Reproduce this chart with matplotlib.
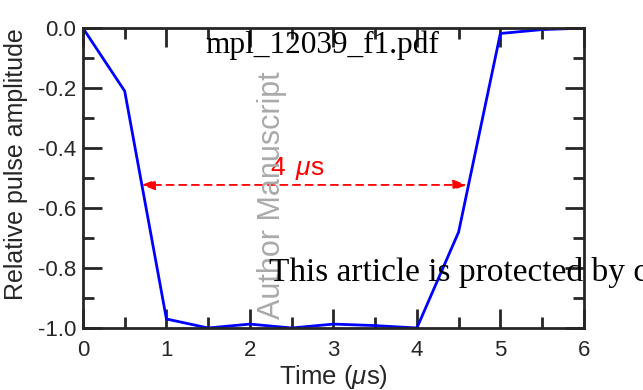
import numpy as np
import matplotlib
matplotlib.use("Agg")
import matplotlib.pyplot as plt
from matplotlib.ticker import MultipleLocator

# pulse data
t_us = [0, 0.5, 1, 1.5, 2, 2.5, 3, 3.5, 4, 4.5, 5, 5.5, 6]
amp = [0, -0.21, -0.97, -1.0, -0.987, -1.0, -0.987, -0.992, -1.0, -0.68, -0.018, -0.005, 0]

arrow_x = [0.7, 4.6]
arrow_y = -0.523
width_label = r"4 $\,\mu$s"

plt.rcParams['font.family'] = ['Liberation Sans', 'DejaVu Sans']
plt.rcParams['mathtext.fontset'] = 'custom'
plt.rcParams['mathtext.it'] = 'Liberation Sans:italic'
plt.rcParams['mathtext.rm'] = 'Liberation Sans'

fig = plt.figure(figsize=(6.43, 3.90), dpi=100)
ax = fig.add_axes([0.129, 0.159, 0.779, 0.769])

ax.plot(t_us, amp, color='#0000ff', lw=2.0)

# 4 us double arrow
ax.annotate('', xy=(arrow_x[0], arrow_y), xytext=(arrow_x[1], arrow_y),
            arrowprops=dict(arrowstyle='<|-|>,head_length=0.8,head_width=0.3', color='red',
                            lw=1.3, linestyle=(0, (4, 3)), shrinkA=0, shrinkB=0))
ax.text(2.57, -0.467, width_label, color='red', fontsize=19, ha='center', va='center')

ax.set_xlim(0, 6)
ax.set_ylim(-1.0, 0.0)
ax.xaxis.set_major_locator(MultipleLocator(1))
ax.xaxis.set_minor_locator(MultipleLocator(0.5))
ax.yaxis.set_major_locator(MultipleLocator(0.2))
ax.yaxis.set_minor_locator(MultipleLocator(0.1))
ax.yaxis.set_major_formatter(matplotlib.ticker.FormatStrFormatter('%.1f'))

dark = '#262626'
ax.tick_params(which='both', direction='in', top=True, right=True, colors=dark,
               labelcolor=dark, labelsize=16, width=2)
ax.tick_params(which='major', length=14, pad=5)
ax.tick_params(which='minor', length=8)
ax.tick_params(axis='x', which='major', pad=9)
for s in ax.spines.values():
    s.set_linewidth(2)
    s.set_color(dark)

ax.set_xlabel(r"Time ($\mu$s)", fontsize=18.5, color=dark, labelpad=1)
ax.set_ylabel("Relative pulse amplitude", fontsize=18, color=dark)
ax.yaxis.set_label_coords(-0.11, 0.547)

# watermark overlay text
fig.text(0.501, 0.885, "mpl_12039_f1.pdf", family='Liberation Serif', fontsize=22.5,
         ha='center', va='center', color='black')
fig.text(0.423, 0.50, "Author Manuscript", rotation=90, fontsize=22, color='#aaaaaa',
         ha='center', va='center')
fig.text(0.418, 0.30, "This article is protected by copyright. All rights reserved",
         family='Liberation Serif', fontsize=24, ha='left', va='center', color='black')

fig.savefig("out.png", dpi=100)
